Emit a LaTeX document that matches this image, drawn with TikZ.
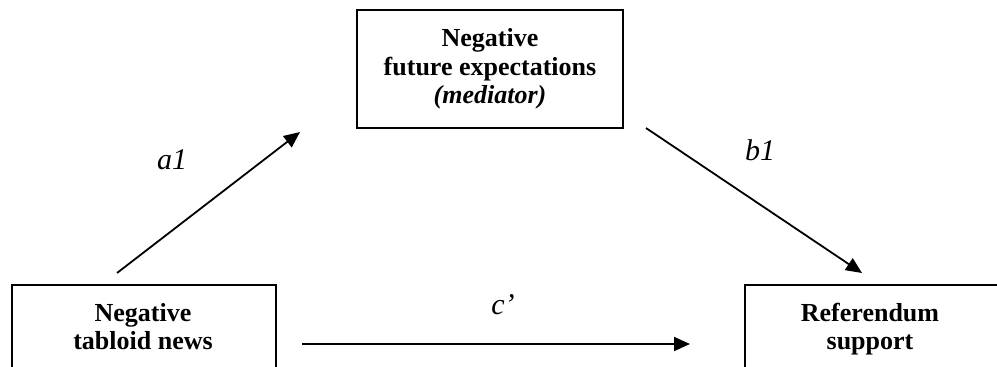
\documentclass[tikz,border=0pt]{standalone}
\usepackage{fontspec}
\setmainfont{Liberation Serif}
\usetikzlibrary{arrows.meta}
\tikzset{
  box/.style={draw=black, line width=2.1pt, rectangle, inner sep=0pt},
  boxtext/.style={align=center, font=\fontsize{26}{28.5}\selectfont\bfseries, inner sep=0pt},
  lab/.style={font=\fontsize{30}{33}\selectfont\itshape, inner sep=0pt},
  conn/.style={line width=1.8pt, -{Triangle[length=16pt,width=14pt]}}
}
\begin{document}
\begin{tikzpicture}[x=1pt,y=-1pt]
\useasboundingbox (0,0) rectangle (997,367);
\clip (0,0) rectangle (997,367);
% top box
\node[box, minimum width=266pt, minimum height=118pt] (M) at (490,69) {};
\node[boxtext] (Mt) at (490,69) {Negative\\future expectations\\\textit{(mediator)}};
% left box (cut off at bottom)
\node[box, minimum width=264pt, minimum height=150pt, anchor=north west] (X) at (11,284) {};
\node[boxtext] (Xt) at (143,326.5) {Negative\\tabloid news};
% right box (cut off at right and bottom)
\node[box, minimum width=300pt, minimum height=150pt, anchor=north west] (Y) at (744,284) {};
\node[boxtext] (Yt) at (870,329.3) {Referendum\\support};
% connector ends
\coordinate (a1s) at (117,273);
\coordinate (a1e) at (300,132);
\coordinate (b1s) at (646,128);
\coordinate (b1e) at (862,273);
\coordinate (cs) at (302,344);
\coordinate (ce) at (690,344);
\draw[conn] (a1s) -- (a1e);
\draw[conn] (b1s) -- (b1e);
\draw[conn] (cs) -- (ce);
% labels
\node[lab] (la) at (172,160) {a1};
\node[lab] (lb) at (760,150) {b1};
\node[lab] (lc) at (503,305) {c’};
\end{tikzpicture}
\end{document}
